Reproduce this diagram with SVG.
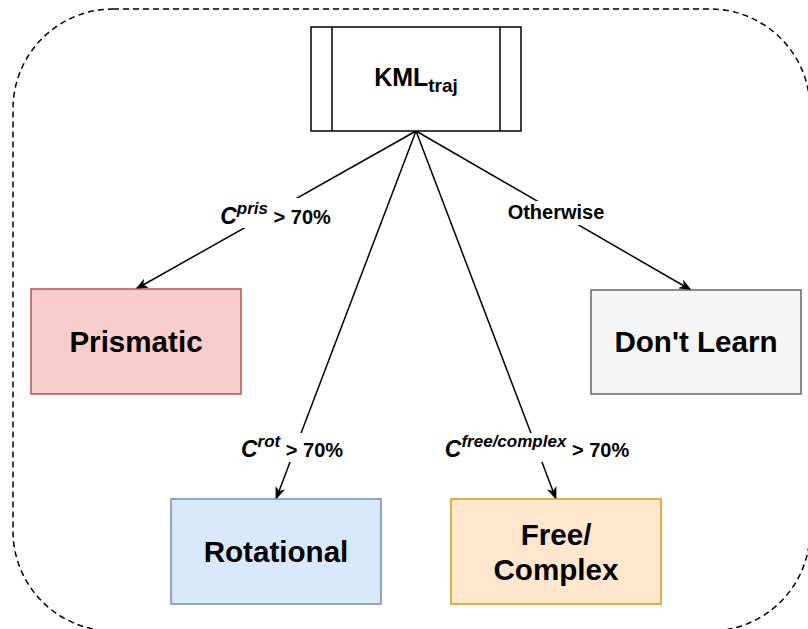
<svg xmlns="http://www.w3.org/2000/svg" width="808" height="629" viewBox="0 0 808 629">
  <style>
    text { font-family: "Liberation Sans", Arial, sans-serif; font-weight: bold; fill: #000; }
    .box { stroke-width: 1.5; }
    .node-text { font-size: 29.6px; }
    .edge { stroke: #000; stroke-width: 1.5; fill: none; marker-end: url(#arrow); }
    .lbl { font-size: 20px; }
    .c { font-size: 23px; font-style: italic; }
    .sup { font-size: 17px; font-style: italic; }
  </style>
  <defs>
    <marker id="arrow" markerUnits="userSpaceOnUse" markerWidth="14" markerHeight="12" refX="12" refY="5" orient="auto">
      <path d="M0,0 L13,5 L0,10 L3.5,5 Z" fill="#000"/>
    </marker>
  </defs>

  <!-- dashed boundary -->
  <rect x="13" y="9" width="797" height="622" rx="100" ry="100" fill="none" stroke="#000" stroke-width="1.5" stroke-dasharray="6,4"/>

  <!-- connectors -->
  <g id="connectors">
    <line class="edge" x1="416" y1="131" x2="136" y2="289"/>
    <line class="edge" x1="416" y1="131" x2="691" y2="290"/>
    <line class="edge" x1="416" y1="131" x2="276" y2="499"/>
    <line class="edge" x1="416" y1="131" x2="556" y2="499"/>

    <rect x="214" y="198" width="123" height="30" fill="#fff"/>
    <text class="lbl" x="275.5" y="224" text-anchor="middle"><tspan class="c">C</tspan><tspan class="sup" dy="-10">pris</tspan><tspan dy="10"> &gt; 70%</tspan></text>

    <rect x="502" y="201" width="109" height="24" fill="#fff"/>
    <text class="lbl" x="556" y="219" text-anchor="middle">Otherwise</text>

    <rect x="237" y="433" width="110" height="29" fill="#fff"/>
    <text class="lbl" x="292" y="457" text-anchor="middle"><tspan class="c">C</tspan><tspan class="sup" dy="-10">rot</tspan><tspan dy="10"> &gt; 70%</tspan></text>

    <rect x="440" y="433" width="194" height="29" fill="#fff"/>
    <text class="lbl" x="537" y="457" text-anchor="middle"><tspan class="c">C</tspan><tspan class="sup" dy="-10">free/complex</tspan><tspan dy="10"> &gt; 70%</tspan></text>
  </g>

  <!-- root node -->
  <g id="kml-traj">
    <rect x="311" y="27" width="210" height="104" fill="#fff" stroke="#000" stroke-width="1.5"/>
    <line x1="332" y1="27" x2="332" y2="131" stroke="#000" stroke-width="1.5"/>
    <line x1="500" y1="27" x2="500" y2="131" stroke="#000" stroke-width="1.5"/>
    <text x="416" y="86" text-anchor="middle" font-size="25">KML<tspan font-size="19" dy="6">traj</tspan></text>
  </g>

  <g id="prismatic">
    <rect class="box" x="31" y="289" width="210" height="105" fill="#f8cecc" stroke="#b85450"/>
    <text class="node-text" x="136" y="352" text-anchor="middle">Prismatic</text>
  </g>

  <g id="dont-learn">
    <rect class="box" x="591" y="290" width="210" height="104" fill="#f5f5f5" stroke="#666666"/>
    <text class="node-text" x="696" y="352" text-anchor="middle">Don't Learn</text>
  </g>

  <g id="rotational">
    <rect class="box" x="171" y="499" width="210" height="105" fill="#dae8fc" stroke="#6c8ebf"/>
    <text class="node-text" x="276" y="562" text-anchor="middle">Rotational</text>
  </g>

  <g id="free-complex">
    <rect class="box" x="451" y="499" width="210" height="105" fill="#ffe6cc" stroke="#d79b00"/>
    <text class="node-text" x="556" y="545" text-anchor="middle">Free/</text>
    <text class="node-text" x="556" y="580" text-anchor="middle">Complex</text>
  </g>
</svg>
